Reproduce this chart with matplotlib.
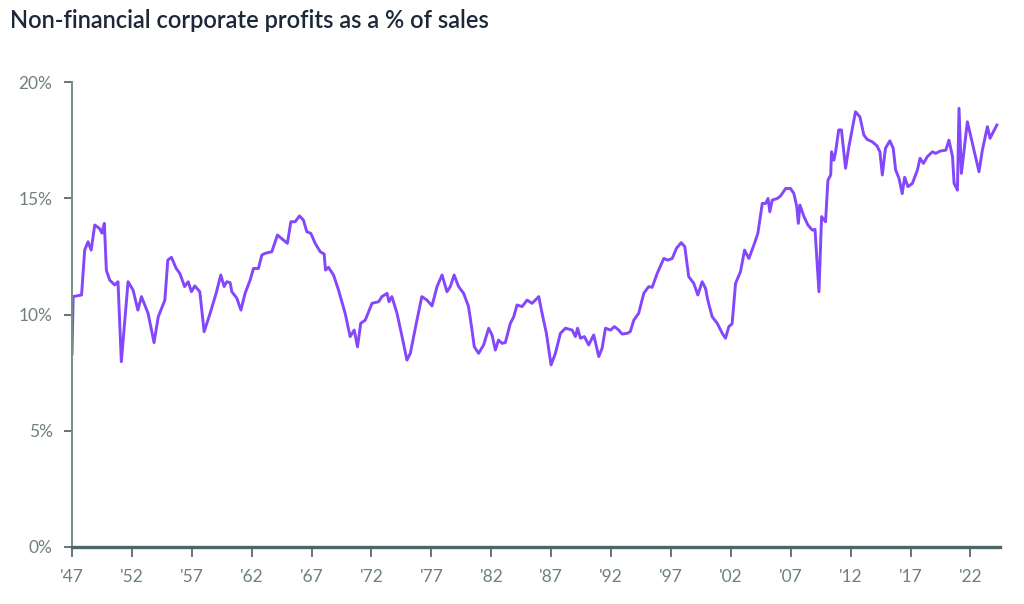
import matplotlib.pyplot as plt
from matplotlib.ticker import FuncFormatter

# values (year, % of sales)
years = [
    1947.0, 1947.1, 1947.8, 1948.06, 1948.34, 1948.6, 1948.9, 1949.3, 1949.5, 1949.7,
    1949.87, 1950.15, 1950.57, 1950.84, 1951.12, 1951.68, 1952.1, 1952.5, 1952.8, 1953.35,
    1953.85, 1954.2, 1954.75, 1955.0, 1955.3, 1955.7, 1956.0, 1956.4, 1956.7, 1956.97,
    1957.25, 1957.67, 1958.03, 1958.53, 1959.03, 1959.42, 1959.7, 1959.92, 1960.2, 1960.34,
    1960.76, 1961.1, 1961.45, 1961.87, 1962.15, 1962.56, 1962.85, 1963.12, 1963.68, 1964.15,
    1964.65, 1964.98, 1965.27, 1965.63, 1965.99, 1966.32, 1966.6, 1966.94, 1967.3, 1967.72,
    1968.05, 1968.16, 1968.41, 1968.83, 1969.25, 1969.8, 1970.22, 1970.56, 1970.83, 1971.1,
    1971.48, 1972.04, 1972.6, 1972.87, 1973.3, 1973.46, 1973.7, 1974.13, 1974.55, 1974.96,
    1975.24, 1975.74, 1976.2, 1976.63, 1977.05, 1977.47, 1977.89, 1978.3, 1978.58, 1978.9,
    1979.27, 1979.69, 1980.1, 1980.35, 1980.58, 1980.94, 1981.36, 1981.78, 1982.06, 1982.34,
    1982.6, 1982.9, 1983.17, 1983.59, 1983.87, 1984.15, 1984.57, 1984.99, 1985.4, 1985.68,
    1985.96, 1986.24, 1986.6, 1986.99, 1987.35, 1987.77, 1988.19, 1988.75, 1989.02, 1989.2,
    1989.44, 1989.77, 1990.13, 1990.55, 1990.97, 1991.25, 1991.53, 1991.95, 1992.28, 1992.64,
    1992.92, 1993.34, 1993.6, 1993.9, 1994.3, 1994.73, 1995.14, 1995.43, 1995.85, 1996.4,
    1996.73, 1997.1, 1997.46, 1997.85, 1998.15, 1998.48, 1998.9, 1999.24, 1999.6, 1999.88,
    2000.07, 2000.44, 2000.86, 2001.28, 2001.55, 2001.83, 2002.1, 2002.39, 2002.8, 2003.14,
    2003.5, 2003.92, 2004.25, 2004.62, 2004.9, 2005.1, 2005.25, 2005.45, 2005.87, 2006.15,
    2006.57, 2006.98, 2007.26, 2007.5, 2007.63, 2007.76, 2008.1, 2008.43, 2008.8, 2009.02,
    2009.35, 2009.57, 2009.9, 2010.1, 2010.33, 2010.4, 2010.6, 2010.74, 2011.0, 2011.23,
    2011.57, 2011.85, 2012.4, 2012.77, 2013.1, 2013.38, 2013.8, 2014.2, 2014.44, 2014.64,
    2014.9, 2015.27, 2015.55, 2015.75, 2016.03, 2016.3, 2016.5, 2016.78, 2017.15, 2017.57,
    2017.79, 2018.07, 2018.4, 2018.82, 2019.1, 2019.46, 2019.94, 2020.2, 2020.5, 2020.63,
    2020.91, 2021.04, 2021.24, 2021.74, 2022.16, 2022.71, 2022.99, 2023.41, 2023.63, 2023.91,
    2024.2,
]
profit_pct = [
    8.3, 10.77, 10.84, 12.77, 13.13, 12.77, 13.85, 13.7, 13.5, 13.92,
    11.9, 11.48, 11.27, 11.41, 7.97, 11.41, 11.05, 10.19, 10.77, 10.05,
    8.79, 9.9, 10.62, 12.34, 12.46, 11.98, 11.77, 11.2, 11.41, 10.98,
    11.23, 10.98, 9.26, 10.05, 10.91, 11.7, 11.2, 11.41, 11.37, 10.98,
    10.7, 10.19, 10.91, 11.48, 11.98, 11.98, 12.56, 12.63, 12.7, 13.42,
    13.2, 13.06, 13.99, 13.99, 14.24, 14.06, 13.56, 13.49, 13.06, 12.7,
    12.6, 11.91, 12.03, 11.7, 11.05, 10.05, 9.05, 9.33, 8.61, 9.62,
    9.76, 10.48, 10.55, 10.77, 10.91, 10.55, 10.77, 10.05, 9.05, 8.04,
    8.33, 9.62, 10.77, 10.62, 10.37, 11.2, 11.7, 10.98, 11.2, 11.7,
    11.2, 10.91, 10.34, 9.48, 8.61, 8.33, 8.69, 9.41, 9.12, 8.47,
    8.9, 8.76, 8.79, 9.62, 9.9, 10.41, 10.34, 10.62, 10.48, 10.62,
    10.77, 10.05, 9.19, 7.83, 8.33, 9.19, 9.41, 9.33, 9.05, 9.41,
    8.98, 9.05, 8.69, 9.12, 8.19, 8.55, 9.41, 9.33, 9.48, 9.33,
    9.16, 9.19, 9.26, 9.76, 10.05, 10.91, 11.2, 11.17, 11.77, 12.41,
    12.34, 12.41, 12.85, 13.09, 12.92, 11.63, 11.34, 10.84, 11.41, 11.13,
    10.62, 9.9, 9.62, 9.19, 8.98, 9.48, 9.6, 11.34, 11.84, 12.77,
    12.41, 12.99, 13.49, 14.78, 14.78, 14.99, 14.42, 14.92, 14.99, 15.1,
    15.42, 15.42, 15.2, 14.64, 13.92, 14.71, 14.21, 13.85, 13.63, 13.66,
    10.98, 14.21, 13.99, 15.78, 16.0, 17.0, 16.64, 17.0, 17.94, 17.94,
    16.29, 17.22, 18.72, 18.5, 17.72, 17.53, 17.43, 17.25, 17.0, 16.0,
    17.15, 17.47, 17.15, 16.22, 15.86, 15.2, 15.9, 15.5, 15.64, 16.22,
    16.72, 16.5, 16.79, 17.0, 16.93, 17.03, 17.07, 17.5, 16.79, 15.64,
    15.35, 18.87, 16.07, 18.29, 17.36, 16.14, 17.07, 18.08, 17.58, 17.86,
    18.15,
]

tick_years = list(range(1947, 2023, 5))
tick_labels = ["'" + str(y)[2:] for y in tick_years]

label_col = '#6f8080'

fig = plt.figure(figsize=(10.24, 6.04), dpi=100)
ax = fig.add_axes([0.0703, 0.0944, 0.9067, 0.7698])

ax.plot(years, profit_pct, color='#8447fb', linewidth=2.1, solid_joinstyle='round')

ax.set_xlim(1947, 2024.5)
ax.set_ylim(0, 20)
ax.set_yticks([0, 5, 10, 15, 20])
ax.yaxis.set_major_formatter(FuncFormatter(lambda v, p: f'{int(v)}%'))
ax.set_xticks(tick_years)
ax.set_xticklabels(tick_labels)

for side in ['top', 'right']:
    ax.spines[side].set_visible(False)
ax.spines['left'].set_color('#7a8c8c')
ax.spines['left'].set_linewidth(1.4)
ax.spines['bottom'].set_color('#4d6666')
ax.spines['bottom'].set_linewidth(2.4)

ax.tick_params(axis='y', direction='out', length=6, width=1.3, color='#556b6b',
               labelsize=12.5, labelcolor=label_col, pad=8)
ax.tick_params(axis='x', direction='out', length=7, width=1.3, color='#556b6b',
               labelsize=12.5, labelcolor=label_col, pad=9)
for lab in ax.get_xticklabels() + ax.get_yticklabels():
    lab.set_family('Lato')

fig.text(0.010, 0.966, 'Non-financial corporate profits as a % of sales',
         fontsize=17, family='Lato', fontweight='semibold', color='#1c2838',
         ha='left', va='center')

plt.savefig('out.png', dpi=100)
